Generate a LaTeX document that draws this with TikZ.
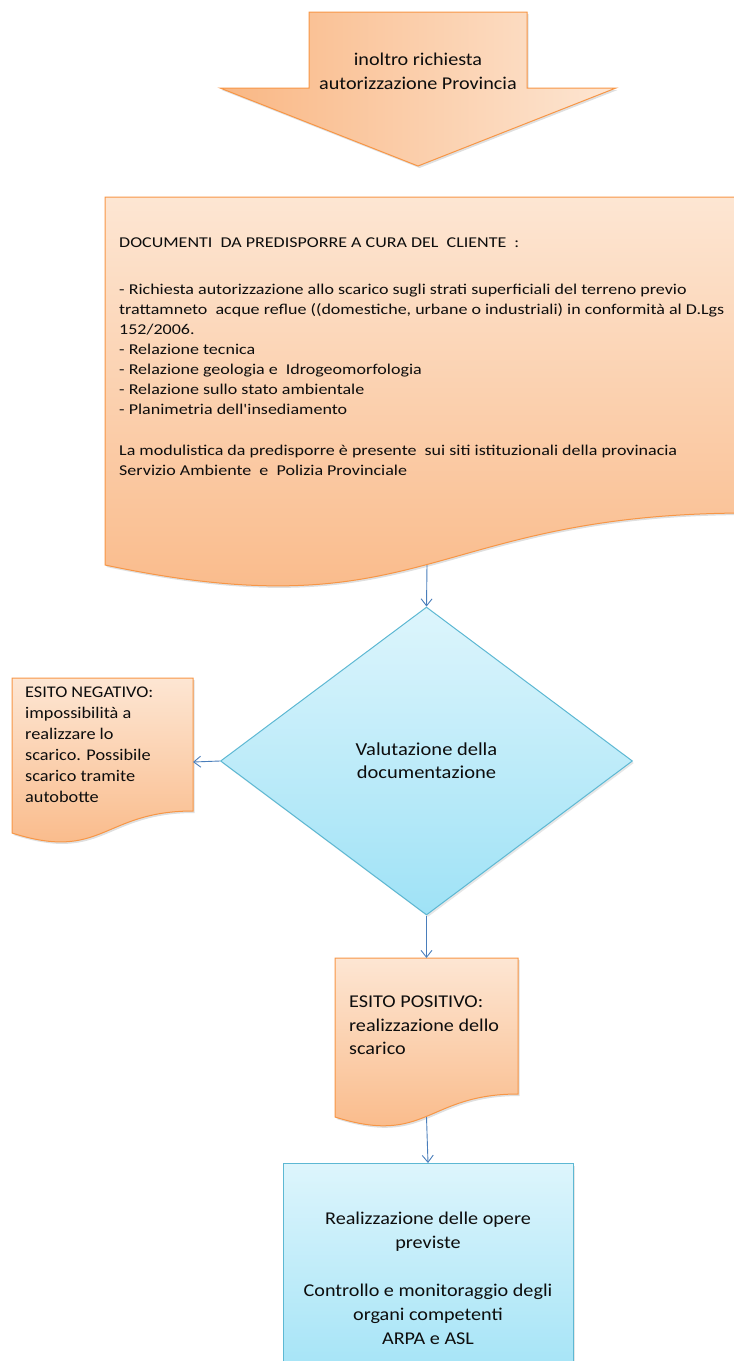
\documentclass[tikz,border=0pt]{standalone}
\usepackage{fontspec}
\setmainfont{Carlito}[FakeStretch=1.12]
\newfontfamily\docfont{Carlito}[FakeStretch=1.2]
\usetikzlibrary{shapes.geometric,arrows.meta,shadows}

\definecolor{peach}{HTML}{FDE6D3}
\definecolor{apricot}{HTML}{F9B784}
\definecolor{orangeline}{HTML}{F79646}
\definecolor{icelight}{HTML}{DDF5FC}
\definecolor{icedark}{HTML}{9FE2F6}
\definecolor{iceline}{HTML}{5DB8D3}
\definecolor{linkblue}{HTML}{4A7EBB}

\tikzset{
  orangeshape/.style={draw=orangeline, line width=1pt, top color=peach, bottom color=apricot,
    drop shadow={shadow xshift=1.5pt, shadow yshift=-2pt, opacity=.25}},
  blueshape/.style={draw=iceline, line width=1pt, top color=icelight, bottom color=icedark,
    drop shadow={shadow xshift=1.5pt, shadow yshift=-2pt, opacity=.2}},
  conn/.style={draw=linkblue, line width=.9pt, -{Straight Barb[length=7pt,width=11pt]}},
  txt/.style={inner sep=0pt, text=black!95},
}

\begin{document}
\begin{tikzpicture}[x=1pt, y=-1pt]
    \useasboundingbox (0,0) rectangle (734,1361);
    \clip (0,0) rectangle (734,1361);

    % big arrow on top
    \path[orangeshape, left color=apricot, right color=peach]
        (309,12) -- (527,12) -- (527,88) -- (616,88) -- (418,166) -- (220,88) -- (309,88) -- cycle;
    \node[txt, align=center, font=\fontsize{18}{24}\selectfont] (inoltro) at (418,71)
        {inoltro richiesta\\autorizzazione Provincia};

    % documents
    \path[orangeshape] (105,197) -- (749,197) -- (749,513)
        .. controls (427,513) and (427,633) .. (105,565) -- cycle;
    \coordinate (doc-s) at (427,565);
    \node[txt, align=left, anchor=north west, font=\docfont\fontsize{15}{20}\selectfont] (doc) at (119,238)
        {DOCUMENTI\ \ DA PREDISPORRE A CURA DEL\ \ CLIENTE\ \ :\\[27pt]
        - Richiesta autorizzazione allo scarico sugli strati superficiali del terreno previo\\
        trattamneto\ \ acque reflue ((domestiche, urbane o industriali) in conformità al D.Lgs\\
        152/2006.\\
        - Relazione tecnica\\
        - Relazione geologia e\ \ Idrogeomorfologia\\
        - Relazione sullo stato ambientale\\
        - Planimetria dell'insediamento\\[21pt]
        La modulistica da predisporre è presente\ \ sui siti istituzionali della provinacia\\
        Servizio Ambiente\ \ e\ \ Polizia Provinciale};

    % decision
    \node[blueshape, diamond, minimum width=412pt, minimum height=308pt, inner sep=0pt,
          txt, align=center, font=\fontsize{18.3}{23}\selectfont] (valut) at (426.5,761)
        {Valutazione della\\documentazione};

    % negative
    \path[orangeshape] (12,678) -- (193,678) -- (193,811)
        .. controls (102.5,811) and (102.5,862) .. (12,833) -- cycle;
    \coordinate (neg-e) at (193,762);
    \node[txt, align=left, anchor=north west, font=\fontsize{16.3}{21}\selectfont] (negtxt) at (25,687)
        {ESITO NEGATIVO:\\impossibilità a\\realizzare lo\\scarico. Possibile\\scarico tramite\\autobotte};

    % positive
    \path[orangeshape] (335,958) -- (518,958) -- (518,1094)
        .. controls (426.5,1094) and (426.5,1146) .. (335,1117) -- cycle;
    \coordinate (pos-n) at (426.5,958);
    \coordinate (pos-s) at (426.5,1117);
    \node[txt, align=left, anchor=north west, font=\fontsize{18}{23.5}\selectfont] (postxt) at (349,996)
        {ESITO POSITIVO:\\realizzazione dello\\scarico};

    % works
    \node[blueshape, minimum width=290pt, minimum height=230pt, anchor=north, inner sep=0pt,
          txt, align=center, font=\fontsize{18}{24}\selectfont] (opere) at (428,1163)
        {Realizzazione delle opere\\previste\\[24pt]Controllo e monitoraggio degli\\organi competenti\\ARPA e ASL};

    \draw[conn] (doc-s) -- (valut.north);
    \draw[conn] (valut.west) -- (neg-e);
    \draw[conn] (valut.south) -- (pos-n);
    \draw[conn] (pos-s) -- (opere.north);
\end{tikzpicture}
\end{document}
